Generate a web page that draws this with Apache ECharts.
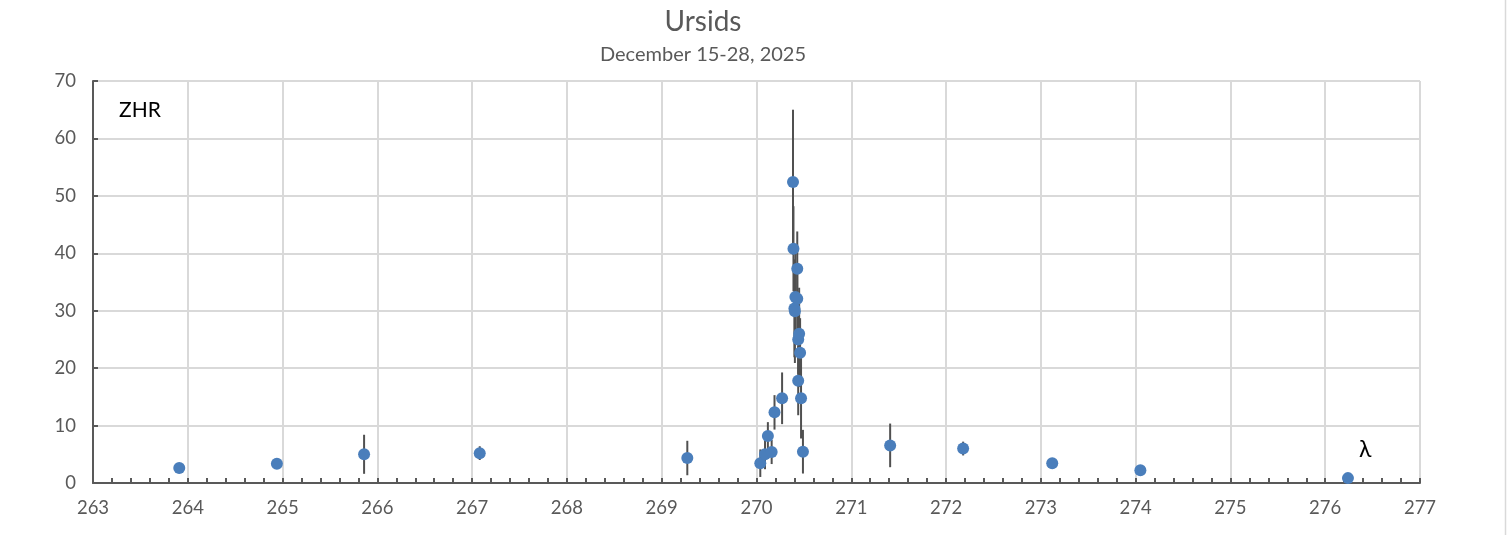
<!DOCTYPE html>
<html>
<head>
<meta charset="utf-8">
<script src="https://cdn.jsdelivr.net/npm/echarts@6/dist/echarts.min.js"></script>
<style>
html,body{margin:0;padding:0;background:#fff;}
#chart{width:1507px;height:535px;}
</style>
</head>
<body>
<div id="chart"></div>
<script>
// Solar longitude (λ) of each ZHR estimate
const lambda = [263.91, 264.94, 265.86, 267.08, 269.27, 270.04, 270.09, 270.12, 270.16, 270.19,
  270.27, 270.385, 270.39, 270.40, 270.405, 270.41, 270.43, 270.43, 270.44, 270.44,
  270.45, 270.46, 270.47, 270.49, 271.41, 272.18, 273.12, 274.05, 276.24];
// ZHR values
const zhr = [2.6, 3.35, 5.0, 5.2, 4.35, 3.45, 5.0, 8.2, 5.4, 12.3,
  14.75, 52.4, 40.8, 30.4, 29.9, 32.4, 32.1, 37.3, 25.0, 17.8,
  26.0, 22.7, 14.75, 5.45, 6.55, 6.0, 3.45, 2.2, 0.85];
// ZHR error (±)
const zhrErr = [0.9, 0.8, 3.4, 1.2, 3.0, 2.4, 2.6, 2.4, 2.1, 3.0,
  4.5, 12.6, 7.4, 8.5, 9.0, 7.5, 5.5, 6.5, 6.0, 6.0,
  8.0, 6.0, 7.0, 3.8, 3.8, 1.2, 0.5, 0.9, 0.3];
const xTicks = [263, 264, 265, 266, 267, 268, 269, 270, 271, 272, 273, 274, 275, 276, 277];
const yTicks = [0, 10, 20, 30, 40, 50, 60, 70];

const FONT = 'Lato';
const GREY = '#595959';

const points = lambda.map((l, i) => [l, zhr[i]]);
const errData = lambda.map((l, i) => [l, zhr[i] - zhrErr[i], zhr[i] + zhrErr[i]]);

const chart = echarts.init(document.getElementById('chart'), null, {renderer: 'canvas'});
chart.setOption({
  animation: false,
  backgroundColor: '#fff',
  textStyle: {fontFamily: FONT},
  grid: {left: 93, right: 87, top: 81, bottom: 52, containLabel: false},
  xAxis: {
    type: 'value',
    min: xTicks[0], max: xTicks[xTicks.length - 1], interval: 1,
    axisLine: {show: true, onZero: false, lineStyle: {color: GREY, width: 2}},
    axisTick: {show: true, inside: true, length: 5, lineStyle: {color: GREY, width: 2}},
    minorTick: {show: true, splitNumber: 5, length: 5, lineStyle: {color: GREY, width: 2}},
    axisLabel: {color: GREY, fontSize: 18.5, fontFamily: FONT, margin: 16},
    splitLine: {show: true, lineStyle: {color: '#d9d9d9', width: 2}}
  },
  yAxis: {
    type: 'value',
    min: yTicks[0], max: yTicks[yTicks.length - 1], interval: 10,
    axisLine: {show: true, lineStyle: {color: GREY, width: 2}},
    axisTick: {show: true, inside: true, length: 5, lineStyle: {color: GREY, width: 2}},
    axisLabel: {color: GREY, fontSize: 18.5, fontFamily: FONT, margin: 17},
    splitLine: {show: true, lineStyle: {color: '#d9d9d9', width: 2}}
  },
  series: [
    {
      type: 'custom',
      name: 'err',
      data: errData,
      z: 2,
      renderItem: function (params, api) {
        const x = api.value(0);
        const p1 = api.coord([x, Math.max(0, api.value(1))]);
        const p2 = api.coord([x, api.value(2)]);
        return {
          type: 'line',
          shape: {x1: p1[0], y1: p1[1], x2: p2[0], y2: p2[1]},
          style: {stroke: '#505050', lineWidth: 2}
        };
      }
    },
    {
      type: 'scatter',
      name: 'ZHR',
      data: points,
      symbol: 'circle',
      symbolSize: 12,
      z: 3,
      itemStyle: {color: '#4a7ebb', opacity: 1}
    }
  ],
  graphic: [
    {type: 'text', x: 703, y: 22, style: {text: 'Ursids', fontFamily: FONT, fontSize: 28, fill: GREY, align: 'center', verticalAlign: 'middle'}},
    {type: 'text', x: 703, y: 55, style: {text: 'December 15-28, 2025', fontFamily: FONT, fontSize: 20, fill: GREY, align: 'center', verticalAlign: 'middle'}},
    {type: 'text', x: 119, y: 110, style: {text: 'ZHR', fontFamily: FONT, fontSize: 21, fill: '#000', verticalAlign: 'middle'}},
    {type: 'text', x: 1359, y: 450, style: {text: 'λ', fontFamily: FONT, fontSize: 23, fill: '#000', verticalAlign: 'middle'}},
    {type: 'line', shape: {x1: 1505.5, y1: 0, x2: 1505.5, y2: 535}, style: {stroke: '#d9d9d9', lineWidth: 1.5}}
  ]
});
</script>
</body>
</html>
